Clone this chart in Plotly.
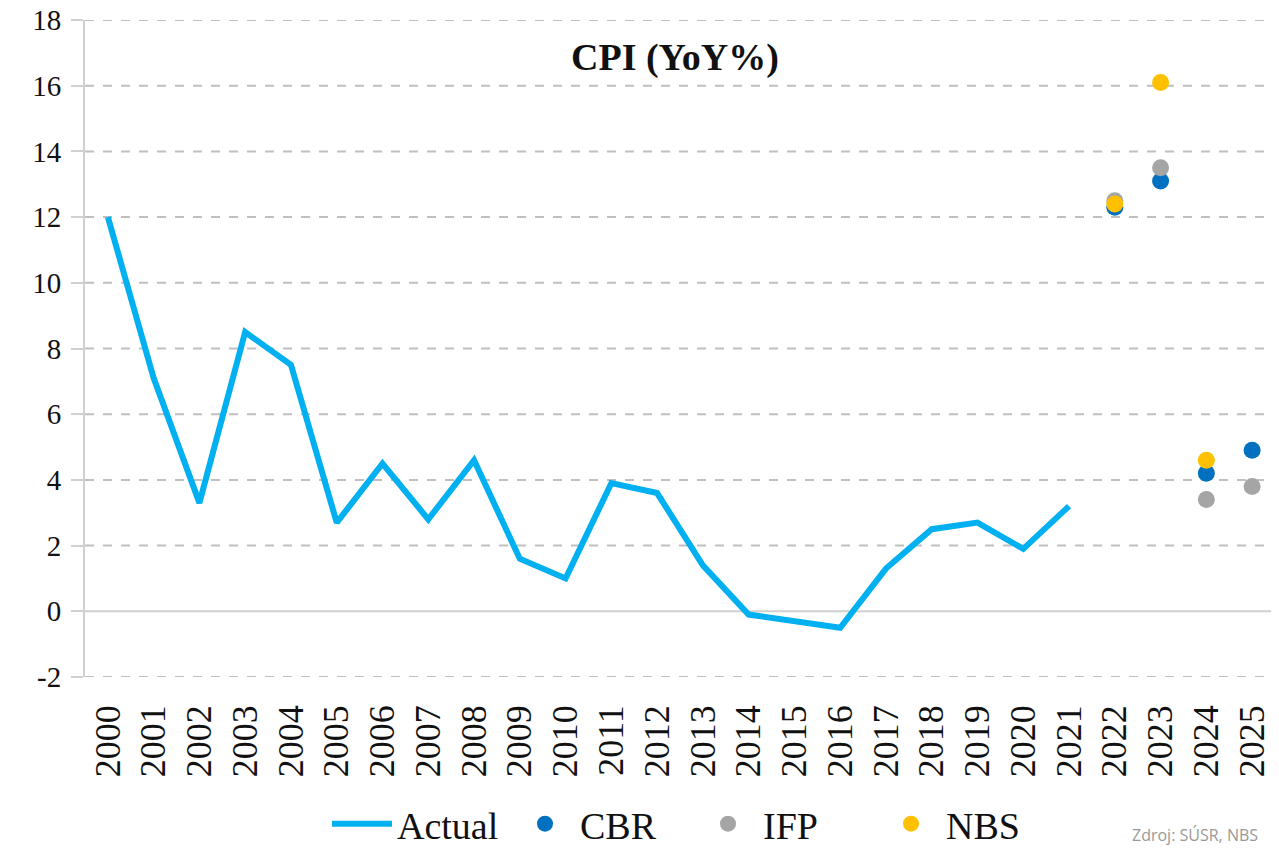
import plotly.graph_objects as go

years = [str(y) for y in range(2000, 2026)]
actual_years = [str(y) for y in range(2000, 2022)]
actual = [12.0, 7.1, 3.3, 8.5, 7.5, 2.7, 4.5, 2.8, 4.6, 1.6, 1.0, 3.9, 3.6, 1.4,
          -0.1, -0.3, -0.5, 1.3, 2.5, 2.7, 1.9, 3.2]
cbr_years = ["2022", "2023", "2024", "2025"]
cbr = [12.3, 13.1, 4.2, 4.9]
ifp_years = ["2022", "2023", "2024", "2025"]
ifp = [12.5, 13.5, 3.4, 3.8]
nbs_years = ["2022", "2023", "2024"]
nbs = [12.4, 16.1, 4.6]
y_ticks = [-2, 0, 2, 4, 6, 8, 10, 12, 14, 16, 18]
y_tick_text = ["-2", "0", "2", "4", "6", "8", "10", "12", "14", "16", "18"]

serif = "Liberation Serif"
OFF = 8  # page body margin offset
PT, PB, PL, PR = 20, 677, 85, 1275  # plot area in screenshot pixels


def py(pix):
    return (PB - pix) / (PB - PT)


def px(pix):
    return (pix - PL) / (PR - PL)


fig = go.Figure()
fig.add_trace(go.Scatter(x=actual_years, y=actual, mode="lines", name="Actual",
                         line=dict(color="#00B0F0", width=6)))
fig.add_trace(go.Scatter(x=cbr_years, y=cbr, mode="markers", name="CBR",
                         marker=dict(color="#0070C0", size=17)))
fig.add_trace(go.Scatter(x=ifp_years, y=ifp, mode="markers", name="IFP",
                         marker=dict(color="#A5A5A5", size=17)))
fig.add_trace(go.Scatter(x=nbs_years, y=nbs, mode="markers", name="NBS",
                         marker=dict(color="#FFC000", size=17)))

# dashed gridlines
for v in y_ticks:
    if v == 0:
        continue
    fig.add_shape(type="line", xref="paper", x0=0, x1=1, yref="y", y0=v, y1=v,
                  line=dict(color="#BFBFBF", width=2, dash="dash"), layer="below")
fig.add_shape(type="line", xref="paper", x0=0, x1=1, yref="y", y0=0, y1=0,
              line=dict(color="#D0D0D0", width=2), layer="below")

fig.add_annotation(text="<b>CPI (YoY%)</b>", xref="paper", yref="paper",
                   x=px(675), y=py(57), xanchor="center", yanchor="middle",
                   showarrow=False,
                   font=dict(family=serif, size=38, color="#111111"))
fig.add_annotation(text="Zdroj: SÚSR, NBS", xref="paper", yref="paper",
                   x=px(1130), y=py(848), xanchor="left", yanchor="bottom",
                   showarrow=False, font=dict(family="Open Sans", size=16, color="#999999"))

W, H = 1279, 872
fig.update_layout(
    width=W, height=H,
    margin=dict(l=PL - OFF, r=W - (PR - OFF), t=PT - OFF, b=H - (PB - OFF)),
    paper_bgcolor="white", plot_bgcolor="white",
    showlegend=True,
    legend=dict(orientation="h", x=px(693), xanchor="center",
                y=py(824), yanchor="middle",
                font=dict(family=serif, size=38, color="#111111"),
                itemwidth=60, entrywidth=108, entrywidthmode="pixels",
                tracegroupgap=0, bgcolor="rgba(0,0,0,0)"),
    xaxis=dict(type="category", categoryorder="array", categoryarray=years,
               tickangle=-90, showgrid=False, showline=False, zeroline=False,
               ticks="", ticklabelstandoff=20, automargin=False,
               tickfont=dict(family=serif, size=36, color="#111111"),
               range=[-0.5, 25.5]),
    yaxis=dict(range=[-2, 18], tickvals=y_ticks, ticktext=y_tick_text,
               showgrid=False, zeroline=False, automargin=False,
               showline=True, linecolor="#D0D0D0", linewidth=2,
               ticks="outside", ticklen=12, tickcolor="#D0D0D0", tickwidth=2,
               ticklabelstandoff=4, ticklabeloverflow="allow",
               tickfont=dict(family=serif, size=29, color="#111111")),
)

fig.write_html("out.html")
